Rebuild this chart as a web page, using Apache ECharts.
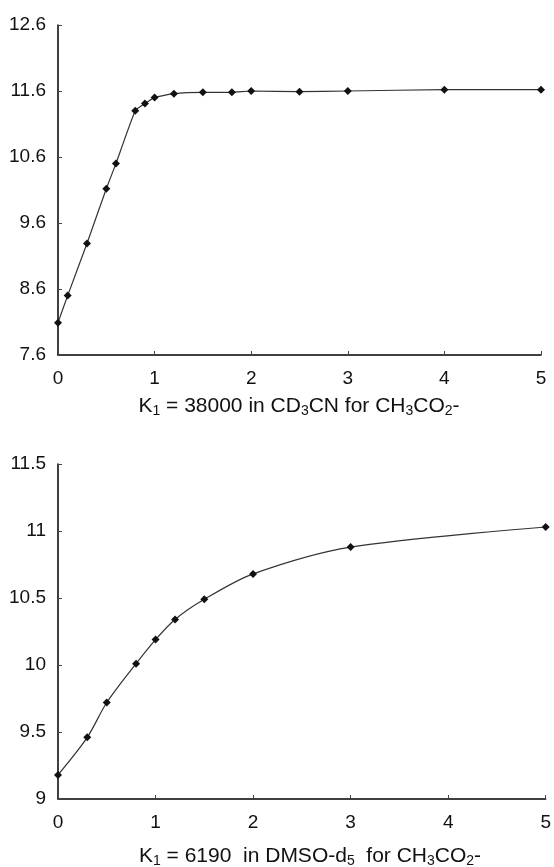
<!DOCTYPE html>
<html>
<head>
<meta charset="utf-8">
<script src="https://cdn.jsdelivr.net/npm/echarts@6/dist/echarts.min.js"></script>
<style>
html,body{margin:0;padding:0;background:#fff;}
#c{width:554px;height:867px;}
</style>
</head>
<body>
<div id="c"></div>
<script>
// Top panel: K1 = 38000 in CD3CN
var topX = [0, 0.1, 0.3, 0.5, 0.6, 0.8, 0.9, 1.0, 1.2, 1.5, 1.8, 2, 2.5, 3, 4, 5];
var topY = [8.09, 8.50, 9.29, 10.12, 10.50, 11.30, 11.41, 11.50, 11.56, 11.58, 11.58, 11.60, 11.59, 11.60, 11.62, 11.62];
// Bottom panel: K1 = 6190 in DMSO-d5
var botX = [0, 0.3, 0.5, 0.8, 1.0, 1.2, 1.5, 2, 3, 5];
var botY = [9.18, 9.46, 9.72, 10.01, 10.19, 10.34, 10.49, 10.68, 10.88, 11.03];
// Axis ranges / ticks
var topYTicks = [7.6, 8.6, 9.6, 10.6, 11.6, 12.6];
var botYTicks = [9, 9.5, 10, 10.5, 11, 11.5];
var xTicks = [0, 1, 2, 3, 4, 5];
var topTitle = 'K{s|1} = 38000 in CD{s|3}CN for CH{s|3}CO{s|2}-';
var botTitle = 'K{s|1} = 6190  in DMSO-d{s|5}  for CH{s|3}CO{s|2}-';

function pairs(xs, ys){ return xs.map(function(x,i){ return [x, ys[i]]; }); }

var FONT = 'Liberation Sans, Arial, sans-serif';
var axisCommon = {
  axisLine: {show: true, onZero: false, lineStyle: {color: '#000', width: 1.5}},
  axisTick: {show: true, inside: true, length: 4, lineStyle: {color: '#444', width: 1}},
  splitLine: {show: false},
  axisLabel: {color: '#111', fontSize: 19, fontFamily: FONT}
};
function xAxis(idx){
  return Object.assign({}, axisCommon, {
    type: 'value', gridIndex: idx, min: xTicks[0], max: xTicks[xTicks.length-1], interval: 1,
    axisLabel: Object.assign({}, axisCommon.axisLabel, {margin: 14})
  });
}
function yAxis(idx, ticks, dec){
  return Object.assign({}, axisCommon, {
    type: 'value', gridIndex: idx, min: ticks[0], max: ticks[ticks.length-1],
    interval: ticks[1]-ticks[0],
    axisLabel: Object.assign({}, axisCommon.axisLabel, {margin: 12,
      formatter: function(v){ return dec ? v.toFixed(1) : String(Math.round(v*10)/10); }})
  });
}
var titleStyle = function(txt, x, y){
  return {
    type: 'text', x: x, y: y,
    style: {
      text: txt, align: 'center', verticalAlign: 'middle',
      fill: '#111', font: '21px ' + FONT,
      rich: {s: {fontSize: 14, fontFamily: FONT, fill: '#111', padding: [10, 0, 0, 0]}}
    }
  };
};

var chart = echarts.init(document.getElementById('c'), null, {renderer: 'canvas'});
chart.setOption({
  animation: false,
  backgroundColor: '#fff',
  grid: [
    {left: 58, top: 25, width: 483, height: 330},
    {left: 58, top: 464, width: 492, height: 335}
  ],
  xAxis: [xAxis(0), xAxis(1)],
  yAxis: [yAxis(0, topYTicks, true), yAxis(1, botYTicks, false)],
  series: [
    {type: 'line', xAxisIndex: 0, yAxisIndex: 0, data: pairs(topX, topY),
     symbol: 'diamond', symbolSize: 8, smooth: 0.15,
     lineStyle: {color: '#333', width: 1.2}, itemStyle: {color: '#111'}},
    {type: 'line', xAxisIndex: 1, yAxisIndex: 1, data: pairs(botX, botY),
     symbol: 'diamond', symbolSize: 8, smooth: 0.3,
     lineStyle: {color: '#333', width: 1.2}, itemStyle: {color: '#111'}}
  ],
  graphic: [titleStyle(topTitle, 299, 406), titleStyle(botTitle, 310, 856)]
});
</script>
</body>
</html>
